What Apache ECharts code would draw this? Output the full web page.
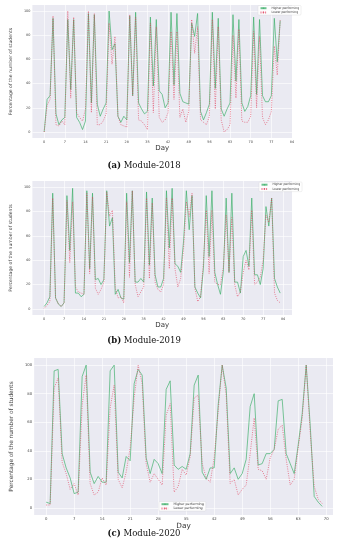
<!DOCTYPE html>
<html><head><meta charset="utf-8">
<script src="https://cdn.jsdelivr.net/npm/echarts@6/dist/echarts.min.js"></script>
<style>html,body{margin:0;padding:0;background:#fff;}#c{width:341px;height:550px;}</style>
</head><body><div id="c"></div>
<script>
// ---- data ----
const xTicks1 = [0,7,14,21,28,35,42,49,56,63,70,77,84];
const xTicks2 = [0,7,14,21,28,35,42,49,56,63,70,77,84];
const xTicks3 = [0,7,14,21,28,35,42,49,56,63,70];
const yTicks = [0,20,40,60,80,100];
const seriesNames = ['Higher performing','Lower performing'];
const captions = ['Module-2018','Module-2019','Module-2020'];
const captionTags = ['(a)','(b)','(c)'];

const high2018 = [0,27,30,94,15,6,10,12,93,35,93,12,8,2,9,98,24,97,23,13,19,24,100,68,73,13,8,13,10,96,30,99,24,19,15,17,95,38,93,34,31,20,24,99,39,98,32,25,24,23,90,79,98,17,10,16,23,99,36,94,19,13,19,24,97,42,93,24,17,21,30,95,31,93,30,25,25,30,94,58,92];
const low2018  = [0,22,27,96,6,5,9,6,100,28,95,16,12,9,19,100,16,98,6,6,9,15,90,56,79,13,6,5,4,97,30,95,10,9,6,2,90,16,87,12,8,10,16,83,27,83,12,19,8,17,93,65,87,10,8,6,13,93,19,87,10,0,2,6,80,28,85,9,8,8,13,83,20,79,12,6,10,17,71,47,93];

const high2019 = [2,5,10,95,9,4,2,5,93,48,99,13,13,10,12,97,33,95,24,25,20,24,97,68,75,12,16,9,8,95,38,97,22,22,25,22,96,36,91,28,18,18,25,97,50,99,37,35,30,55,97,65,93,18,13,9,33,93,43,97,30,20,12,30,91,30,95,22,22,13,43,48,35,91,28,28,20,33,84,68,91,25,18,13];
const low2019  = [0.5,3,6,91,9,4,2,5,89,38,88,18,14,13,12,95,29,92,17,12,16,22,96,76,81,17,9,10,5,88,26,97,20,10,14,18,91,25,87,22,16,14,20,91,33,91,33,18,25,49,88,76,95,17,6,10,38,81,29,81,22,20,20,34,77,30,75,20,10,14,30,40,32,81,20,22,26,40,77,71,91,13,7,5];

const high2020 = [4,3,96,97,38,28,21,10,11,92,100,25,17,22,18,18,96,100,25,21,36,33,87,97,93,35,24,34,31,24,83,89,30,27,29,27,38,86,93,25,20,28,28,72,100,84,24,28,20,24,34,71,80,30,31,38,38,41,75,76,38,31,24,44,66,100,58,8,4,1];
const low2020  = [2,2,84,91,32,24,13,17,9,72,93,17,9,11,21,16,70,86,20,14,25,42,77,100,87,31,18,24,20,16,65,73,11,15,27,23,36,77,79,31,21,18,35,68,100,79,17,20,9,13,16,38,63,27,26,20,35,41,55,58,34,16,20,42,63,100,53,15,6,3];

// ---- chart ----
const GREEN = 'rgba(60,175,105,0.75)';
const RED = 'rgba(225,60,90,0.7)';
const panels = [
  {high: high2018, low: low2018, xt: xTicks1, grid:{left:16, top:5, width:276, height:133}, xmin:-4, xmax:84, fs:3.4, nameFs:4.6, dayFs:7, lw:0.9},
  {high: high2019, low: low2019, xt: xTicks2, grid:{left:16, top:181, width:276, height:134}, xmin:-4.15, xmax:87.15, fs:3.4, nameFs:4.6, dayFs:7, lw:0.9},
  {high: high2020, low: low2020, xt: xTicks3, grid:{left:20.5, top:358, width:312.5, height:157}, xmin:-3, xmax:71.7, fs:3.8, nameFs:5.8, dayFs:7.3, lw:0.9}
];
const toPairs = arr => arr.map((v,i)=>[i,v]);
const grids=[], xAxes=[], yAxes=[], series=[];
panels.forEach((p,k)=>{
  grids.push(Object.assign({show:true, backgroundColor:'#EAEAF2', borderWidth:0}, p.grid));
  xAxes.push({type:'value', gridIndex:k, min:p.xmin, max:p.xmax,
    axisLine:{show:false}, axisTick:{show:false}, splitLine:{show:false},
    axisLabel:{customValues:p.xt, fontSize:p.fs, color:'#444', margin:2.5, fontFamily:'DejaVu Sans'},
    name:'Day', nameLocation:'middle', nameGap:5.5,
    nameTextStyle:{fontSize:p.dayFs, color:'#333', fontFamily:'DejaVu Sans', verticalAlign:'top'}});
  yAxes.push({type:'value', gridIndex:k, min:-5, max:105,
    axisLine:{show:false}, axisTick:{show:false}, splitLine:{show:false},
    axisLabel:{customValues:yTicks, fontSize:p.fs, color:'#444', margin:2, fontFamily:'DejaVu Sans'},
    name:'Percentage of the number of students', nameLocation:'middle', nameGap: k===2?11:8,
    nameTextStyle:{fontSize:p.nameFs, color:'#444', fontFamily:'DejaVu Sans'}});
  const gl = {color:'#ffffff', width:0.6, type:'solid'};
  series.push({type:'line', name:seriesNames[0], xAxisIndex:k, yAxisIndex:k, data:toPairs(p.high),
    symbol:'none', z:3, lineStyle:{color:GREEN, width:p.lw}, itemStyle:{color:GREEN},
    markLine:{silent:true, symbol:['none','none'], z:1, animation:false, label:{show:false},
      lineStyle:gl, emphasis:{disabled:true},
      data: p.xt.map(v=>({xAxis:v})).concat(yTicks.map(v=>({yAxis:v})))}});
  series.push({type:'line', name:seriesNames[1], xAxisIndex:k, yAxisIndex:k, data:toPairs(p.low),
    symbol:'none', z:4, lineStyle:{color:RED, width:p.lw, type:[1,1.3]}, itemStyle:{color:RED}});
});
const legendBase = {orient:'vertical', itemWidth:6, itemHeight:2, itemGap:1.2,
  textStyle:{fontSize:3, color:'#333', fontFamily:'DejaVu Sans'}, padding:[1.2,2,1.2,1.5],
  backgroundColor:'rgba(255,255,255,0.85)', borderColor:'#d0d0d0', borderWidth:0.3, borderRadius:1,
  data:seriesNames, selectedMode:false};
const legends = [
  Object.assign({}, legendBase, {left:258, top:5.5}),
  Object.assign({}, legendBase, {left:259, top:182}),
  Object.assign({}, legendBase, {left:159, top:501.5, itemWidth:7, textStyle:{fontSize:3.3,color:'#333',fontFamily:'DejaVu Sans'}})
];
const capY = [166, 341, 534];
const graphics = captions.map((c,i)=>({type:'text', x:144, y:capY[i], silent:true,
  style:{text:'{b|'+captionTags[i]+'}{n| '+c+'}',
    rich:{b:{fontWeight:'bold', fontSize:8.5, fontFamily:'DejaVu Serif', fill:'#111'},
          n:{fontWeight:'normal', fontSize:8.5, fontFamily:'DejaVu Serif', fill:'#111'}},
    fontSize:8.5, fontFamily:'DejaVu Serif', fill:'#111', align:'center', verticalAlign:'middle'}}));
const chart = echarts.init(document.getElementById('c'), null, {renderer:'canvas'});
chart.setOption({animation:false, backgroundColor:'#fff', grid:grids, xAxis:xAxes, yAxis:yAxes,
  series:series, legend:legends, graphic:graphics});
</script></body></html>
